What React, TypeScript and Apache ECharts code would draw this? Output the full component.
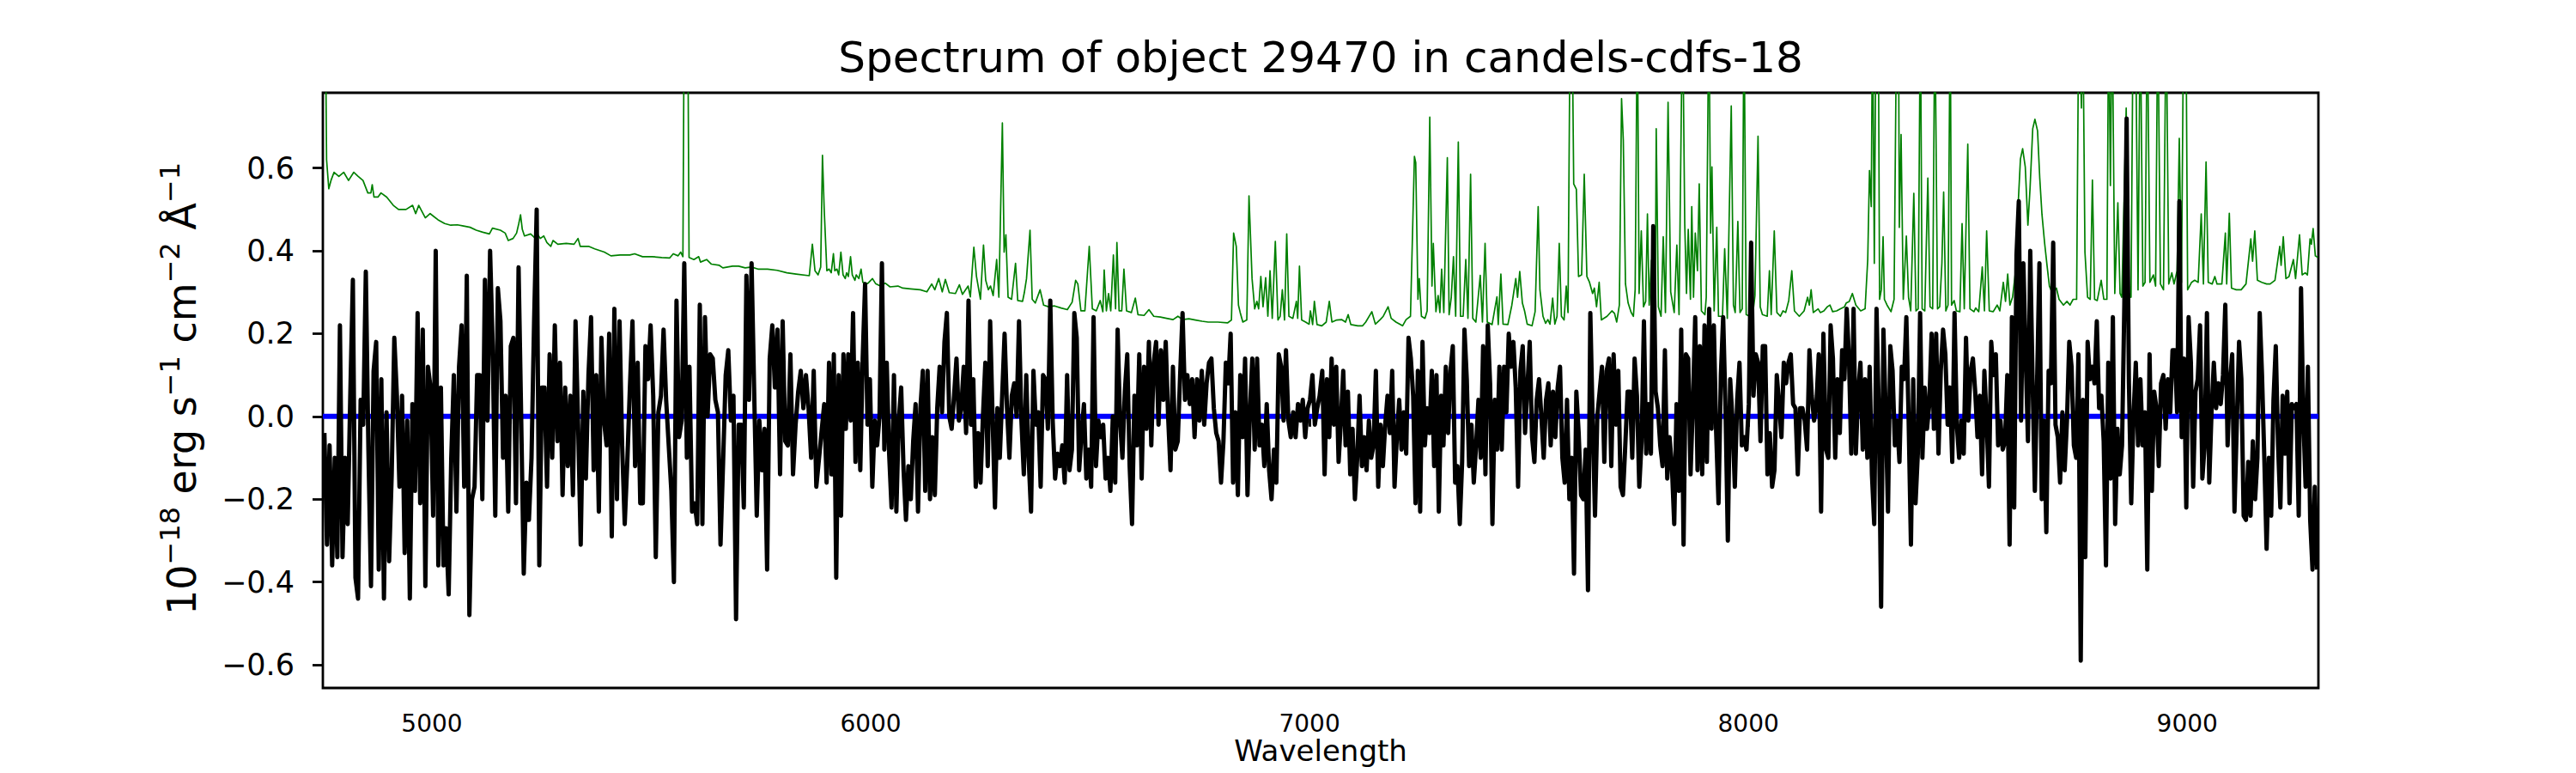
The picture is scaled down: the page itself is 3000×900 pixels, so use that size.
import React, { useEffect, useRef } from "react";
import * as echarts from "echarts";

// ---------------- data ----------------
const TITLE = "Spectrum of object 29470 in candels-cdfs-18";
const X_LABEL = "Wavelength";

const WAVE_MIN = 4751.5;
const WAVE_MAX = 9299;
const FLUX_MIN = -0.656;
const FLUX_MAX = 0.782;
const X_TICKS = [5000, 6000, 7000, 8000, 9000];
const Y_TICKS = [-0.6, -0.4, -0.2, 0, 0.2, 0.4, 0.6];
const ZERO_LEVEL = 0;

// object flux (black), read in four wavelength segments, uniformly sampled inside each
const SEGMENT_START = [4755, 5894, 7029, 8177];
const SEGMENT_END = [5876, 7023, 8171, 9296];

const FLUX_A = [
  -0.04, -0.31, -0.07, -0.36, -0.10, -0.34, 0.22, -0.34, -0.10, -0.26,
  0.05, 0.33, -0.39, -0.44, 0.04, -0.02, 0.35, -0.08, -0.41, 0.11,
  0.18, -0.37, 0.09, -0.44, 0.01, -0.35, -0.14, 0.19, 0.05, -0.17,
  0.05, -0.33, -0.01, -0.44, 0.03, -0.18, 0.25, -0.21, 0.21, -0.41,
  0.12, 0.07, -0.24, 0.40, -0.36, 0.07, -0.36, -0.27, -0.43, -0.10,
  0.10, -0.23, 0.12, 0.22, -0.17, 0.34, -0.48, -0.20, -0.17, 0.10,
  0.10, -0.20, 0.33, -0.01, 0.40, 0.17, -0.24, 0.31, 0.23, -0.10,
  0.05, -0.23, 0.17, 0.19, -0.21, 0.36, 0.00, -0.38, -0.16, -0.25,
  -0.10, 0.23, 0.50, -0.36, 0.07, 0.07, -0.17, 0.15, -0.10, 0.22,
  -0.06, 0.13, -0.19, 0.07, -0.12, 0.05, -0.19, 0.23, -0.02, -0.31,
  0.06, -0.15, 0.10, 0.24, -0.13, 0.10, -0.23, 0.19, -0.01, -0.07,
  0.20, -0.29, 0.26, -0.20, 0.23, -0.07, -0.26, -0.11, 0.07, 0.23,
  -0.12, 0.13, -0.21, -0.21, 0.17, 0.09, 0.22, 0.05, -0.34, 0.01,
  0.05, 0.21, 0.04, -0.07, -0.18, -0.40, 0.28, -0.05, -0.01, 0.37,
  -0.10, 0.12, -0.23, -0.21, -0.26, 0.27, -0.26, 0.24, 0.00, 0.15,
  0.14, 0.04, 0.01, -0.31, -0.11, 0.10, 0.16, -0.01, 0.05, -0.49,
  -0.02, -0.02, -0.22, 0.34, 0.04, 0.37, 0.06, -0.24, -0.01, -0.13,
  -0.03, -0.37, 0.14, 0.22, 0.07, 0.21, -0.14, 0.23, -0.06, -0.07,
  0.15, -0.14, -0.02, 0.06, 0.11, 0.02, 0.10, 0.02, -0.10, 0.11,
  -0.17,
];

const FLUX_B = [
  0.03, -0.16, 0.13, -0.14, 0.15, -0.39, 0.10, -0.24, 0.15, -0.03,
  0.15, -0.01, 0.25, -0.11, 0.13, -0.13, 0.14, 0.32, -0.02, 0.09,
  -0.17, -0.01, -0.07, 0.00, 0.37, -0.08, 0.13, -0.09, -0.22, 0.10,
  -0.23, -0.01, 0.07, -0.13, -0.25, -0.12, -0.20, -0.06, 0.03, -0.23,
  0.02, 0.11, -0.18, 0.11, -0.20, -0.05, -0.19, 0.02, 0.12, 0.01,
  0.18, 0.25, 0.00, -0.03, 0.05, 0.14, -0.01, 0.02, 0.12, -0.04,
  0.28, -0.02, 0.09, -0.17, -0.04, -0.16, 0.00, 0.13, -0.12, 0.23,
  0.00, -0.22, 0.02, -0.10, 0.05, 0.20, 0.02, -0.10, 0.05, 0.08,
  0.00, 0.23, -0.01, -0.14, 0.10, -0.10, -0.23, 0.11, -0.02, 0.01,
  -0.17, 0.10, 0.09, -0.03, 0.28, -0.01, -0.15, -0.09, -0.12, -0.07,
  -0.16, 0.10, -0.13, -0.08, 0.25, 0.19, -0.13, -0.04, 0.03, -0.15,
  -0.08, -0.17, 0.24, -0.12, -0.01, -0.05, -0.02, -0.15, -0.10, -0.18,
  0.00, -0.16, 0.21, -0.01, -0.10, 0.06, 0.15, -0.12, -0.26, 0.05,
  -0.07, 0.15, -0.15, 0.12, -0.03, 0.18, -0.07, 0.13, 0.18, -0.02,
  0.16, 0.04, 0.18, 0.00, -0.13, 0.12, -0.08, -0.06, 0.10, 0.25,
  0.04, 0.10, 0.03, 0.09, -0.05, 0.09, -0.01, 0.11, -0.02, 0.08,
  0.13, 0.14, 0.02, -0.04, -0.06, -0.16, -0.06, 0.13, 0.08, 0.20,
  -0.16, 0.01, -0.19, 0.10, -0.05, 0.14, -0.19, 0.01, 0.14, -0.08,
  0.14, -0.07, -0.02, -0.12, 0.03, -0.13, -0.20, -0.08, -0.16, 0.15,
  0.12, -0.01, 0.16, -0.01, -0.05, 0.01, -0.05, 0.03, -0.01, 0.04,
  -0.05, 0.02, 0.04, 0.10, -0.02, 0.02, 0.05,
];

const FLUX_C = [
  0.11, -0.14, 0.09, -0.05, 0.14, -0.02, 0.12, -0.11, -0.01, 0.11,
  -0.07, 0.06, -0.14, -0.03, -0.20, -0.10, 0.05, -0.12, -0.05, -0.13,
  -0.01, -0.10, -0.07, 0.11, -0.17, -0.02, -0.12, -0.02, 0.05, -0.04,
  0.11, -0.17, -0.05, 0.04, -0.08, 0.01, -0.09, 0.19, 0.14, 0.05,
  -0.21, 0.11, -0.23, 0.18, -0.07, 0.02, -0.04, 0.11, -0.12, 0.10,
  -0.23, 0.05, -0.07, 0.12, -0.04, 0.11, 0.17, -0.16, -0.12, -0.26,
  -0.11, 0.21, 0.09, -0.12, -0.02, -0.16, -0.07, 0.04, -0.10, 0.17,
  -0.14, 0.22, 0.08, -0.26, 0.04, -0.08, 0.12, -0.08, 0.12, 0.01,
  0.20, 0.12, 0.18, 0.07, -0.17, 0.11, 0.17, -0.04, 0.07, 0.18,
  -0.05, -0.11, 0.04, 0.09, 0.00, -0.10, 0.04, 0.08, -0.07, 0.06,
  -0.05, 0.07, 0.12, -0.10, -0.16, 0.04, -0.20, -0.10, -0.38, 0.06,
  -0.04, -0.19, -0.20, -0.08, -0.42, 0.25, -0.01, -0.24, 0.00, 0.06,
  0.12, -0.11, 0.11, 0.14, -0.12, 0.15, -0.02, 0.11, -0.17, -0.19,
  -0.07, 0.06, 0.06, -0.10, 0.14, 0.05, -0.17, -0.06, 0.23, -0.09,
  0.03, -0.09, 0.46, 0.06, 0.02, -0.07, -0.12, 0.16, -0.15, -0.05,
  -0.12, -0.26, 0.03, -0.18, 0.21, -0.31, 0.15, 0.14, -0.14, 0.03,
  0.24, -0.13, 0.17, -0.14, 0.22, -0.11, 0.26, -0.03, 0.22, -0.04,
  -0.21, 0.10, 0.24, 0.02, -0.30, 0.09, -0.01, -0.17, 0.04, 0.13,
  -0.07, -0.05, -0.08, 0.03, 0.42, 0.05, 0.15, 0.13, -0.06, 0.17,
  0.17, -0.14, -0.04, -0.17, -0.13, 0.10, 0.03, -0.05, 0.13, 0.08,
  0.13, 0.15, 0.03, 0.02, -0.14, 0.02, 0.02, -0.01, -0.08, 0.16,
  0.05, -0.01, 0.03, 0.15, -0.23, 0.20,
];

const FLUX_D = [
  -0.08, -0.10, 0.22, 0.14, -0.10, 0.09, -0.04, 0.16, 0.09, 0.26,
  0.14, -0.09, 0.26, -0.09, 0.06, 0.13, -0.08, 0.09, -0.10, 0.12,
  -0.14, -0.26, 0.26, 0.01, -0.46, 0.21, 0.01, -0.23, 0.17, 0.11,
  -0.07, -0.01, -0.11, 0.12, 0.09, 0.24, -0.01, -0.31, 0.09, -0.21,
  -0.09, 0.25, -0.10, 0.07, -0.03, 0.03, 0.20, -0.03, 0.20, -0.09,
  0.11, 0.21, 0.15, -0.02, 0.07, -0.11, 0.25, -0.02, -0.10, -0.01,
  -0.09, 0.19, -0.01, 0.11, 0.14, 0.06, -0.05, 0.05, -0.14, 0.11,
  -0.01, -0.17, 0.18, 0.10, 0.15, -0.07, -0.01, -0.08, -0.06, 0.10,
  -0.31, 0.24, -0.22, 0.39, 0.52, -0.01, 0.37, 0.15, -0.06, 0.40,
  0.09, -0.18, 0.09, 0.37, -0.20, -0.01, -0.28, 0.11, 0.08, 0.42,
  -0.02, -0.05, -0.16, 0.01, -0.13, -0.01, 0.18, 0.12, -0.07, -0.10,
  0.15, -0.59, 0.04, -0.34, 0.18, 0.09, 0.12, 0.08, 0.23, 0.02,
  0.05, -0.06, -0.36, 0.13, -0.15, 0.24, -0.26, -0.03, -0.14, -0.07,
  0.27, 0.72, 0.08, -0.21, 0.00, 0.13, -0.07, 0.09, -0.07, 0.01,
  -0.37, 0.15, -0.18, 0.06, 0.02, -0.12, 0.08, 0.10, -0.03, 0.09,
  0.01, 0.16, 0.16, 0.01, 0.52, -0.05, 0.14, -0.22, 0.24, 0.13,
  -0.17, 0.06, 0.09, 0.22, -0.15, -0.07, 0.25, -0.16, 0.01, 0.13,
  0.02, 0.08, 0.03, 0.10, 0.27, -0.07, 0.08, 0.15, -0.23, -0.02,
  0.18, 0.09, -0.24, -0.25, -0.11, -0.24, -0.06, -0.20, -0.10, 0.25,
  0.10, -0.10, -0.32, -0.10, -0.24, 0.04, 0.17, -0.07, -0.22, 0.05,
  -0.09, 0.06, -0.21, 0.03, 0.02, 0.03, -0.24, 0.31, 0.00, -0.17,
  0.12, -0.25, -0.37, -0.17, -0.37,
];

// noise / sky spectrum (green)
const NOISE_WAVE = [
  4752, 4757, 4760, 4765, 4770, 4777, 4788, 4799, 4810, 4822, 4832, 4843, 4854, 4861, 4864, 4868,
  4877, 4884, 4897, 4912, 4924, 4941, 4956, 4963, 4970, 4985, 4996, 5014, 5029, 5043, 5058, 5072,
  5087, 5101, 5116, 5131, 5138, 5156, 5167, 5174, 5185, 5193, 5198, 5202, 5206, 5211, 5225, 5236,
  5240, 5247, 5255, 5262, 5271, 5276, 5287, 5306, 5324, 5333, 5338, 5357, 5371, 5393, 5408, 5429,
  5451, 5462, 5480, 5502, 5524, 5542, 5550, 5561, 5567, 5572, 5575, 5583, 5586, 5597, 5608, 5612,
  5626, 5637, 5655, 5663, 5685, 5699, 5714, 5728, 5743, 5765, 5787, 5809, 5830, 5860, 5867, 5873,
  5880, 5886, 5890, 5894, 5900, 5905, 5910, 5915, 5918, 5923, 5927, 5932, 5937, 5942, 5945, 5949,
  5954, 5958, 5964, 5967, 5973, 5978, 5982, 5993, 6004, 6011, 6022, 6033, 6044, 6062, 6073, 6091,
  6113, 6128, 6139, 6146, 6155, 6163, 6170, 6179, 6193, 6202, 6209, 6222, 6227, 6235, 6241, 6250,
  6257, 6262, 6268, 6273, 6279, 6287, 6292, 6300, 6304, 6308, 6313, 6321, 6330, 6335, 6346, 6350,
  6355, 6363, 6368, 6375, 6386, 6394, 6405, 6419, 6434, 6448, 6459, 6467, 6472, 6479, 6488, 6498,
  6505, 6514, 6523, 6529, 6532, 6537, 6542, 6547, 6553, 6558, 6561, 6566, 6572, 6577, 6583, 6594,
  6603, 6609, 6623, 6634, 6645, 6660, 6674, 6689, 6700, 6711, 6725, 6740, 6755, 6769, 6791, 6813,
  6822, 6827, 6833, 6838, 6842, 6848, 6857, 6862, 6869, 6875, 6880, 6884, 6889, 6894, 6900, 6905,
  6910, 6915, 6922, 6928, 6933, 6938, 6943, 6948, 6953, 6962, 6970, 6973, 6977, 6982, 6991, 6999,
  7002, 7007, 7011, 7017, 7028, 7038, 7045, 7051, 7062, 7073, 7082, 7088, 7094, 7110, 7121, 7128,
  7142, 7150, 7161, 7168, 7179, 7186, 7197, 7212, 7220, 7230, 7239, 7242, 7247, 7250, 7255, 7263,
  7268, 7274, 7279, 7282, 7288, 7293, 7297, 7301, 7306, 7314, 7318, 7323, 7328, 7333, 7339, 7344,
  7350, 7356, 7361, 7367, 7372, 7379, 7389, 7394, 7400, 7405, 7416, 7427, 7430, 7436, 7441, 7452,
  7461, 7470, 7474, 7479, 7485, 7490, 7496, 7507, 7514, 7521, 7525, 7532, 7538, 7543, 7548, 7554,
  7559, 7564, 7569, 7574, 7580, 7585, 7589, 7594, 7598, 7602, 7608, 7613, 7620, 7626, 7632, 7638,
  7645, 7649, 7654, 7660, 7665, 7678, 7689, 7695, 7700, 7706, 7711, 7715, 7720, 7726, 7733, 7738,
  7742, 7747, 7751, 7756, 7761, 7766, 7770, 7774, 7779, 7784, 7788, 7790, 7795, 7801, 7806, 7811,
  7817, 7823, 7831, 7837, 7842, 7850, 7855, 7859, 7863, 7868, 7871, 7875, 7879, 7884, 7888, 7893,
  7901, 7904, 7910, 7914, 7917, 7922, 7928, 7932, 7941, 7946, 7952, 7961, 7966, 7970, 7976, 7981,
  7986, 7990, 7995, 8003, 8010, 8015, 8022, 8027, 8032, 8043, 8048, 8052, 8059, 8065, 8073, 8079,
  8085, 8092, 8099, 8105, 8116, 8127, 8135, 8139, 8143, 8148, 8159, 8164, 8172, 8180, 8186, 8192,
  8201, 8210, 8219, 8223, 8230, 8237, 8245, 8256, 8266, 8272, 8276, 8280, 8283, 8287, 8291, 8296,
  8299, 8303, 8307, 8310, 8316, 8325, 8332, 8338, 8342, 8344, 8348, 8353, 8360, 8365, 8370, 8377,
  8382, 8387, 8392, 8396, 8402, 8409, 8414, 8420, 8425, 8431, 8436, 8441, 8445, 8450, 8455, 8460,
  8463, 8469, 8474, 8482, 8487, 8492, 8500, 8505, 8514, 8518, 8525, 8533, 8538, 8543, 8549, 8558,
  8567, 8573, 8581, 8586, 8591, 8596, 8602, 8609, 8615, 8620, 8625, 8631, 8637, 8642, 8648, 8653,
  8659, 8664, 8669, 8675, 8681, 8686, 8693, 8702, 8708, 8718, 8726, 8733, 8740, 8748, 8753, 8759,
  8762, 8767, 8773, 8779, 8784, 8789, 8795, 8804, 8810, 8817, 8821, 8825, 8829, 8835, 8842, 8847,
  8851, 8861, 8866, 8872, 8877, 8882, 8888, 8893, 8899, 8904, 8909, 8915, 8923, 8928, 8933, 8939,
  8946, 8952, 8958, 8965, 8970, 8977, 8982, 8987, 8992, 8997, 9001, 9010, 9017, 9025, 9032, 9037,
  9043, 9048, 9057, 9063, 9068, 9079, 9087, 9090, 9096, 9101, 9112, 9123, 9134, 9145, 9149, 9154,
  9160, 9170, 9181, 9189, 9200, 9211, 9214, 9219, 9225, 9232, 9242, 9247, 9256, 9262, 9269, 9274,
  9280, 9283, 9287, 9292, 9298,
];

const NOISE_FLUX = [
  1.0, 1.0, 0.62, 0.55, 0.57, 0.59, 0.58, 0.59, 0.57, 0.59, 0.58, 0.57, 0.54, 0.54, 0.56, 0.53,
  0.53, 0.54, 0.53, 0.51, 0.50, 0.50, 0.51, 0.49, 0.51, 0.48, 0.49, 0.475, 0.466, 0.462, 0.463, 0.46,
  0.457, 0.45, 0.445, 0.441, 0.455, 0.45, 0.443, 0.425, 0.43, 0.443, 0.466, 0.487, 0.452, 0.436, 0.441, 0.43,
  0.441, 0.43, 0.436, 0.42, 0.411, 0.425, 0.416, 0.418, 0.416, 0.43, 0.411, 0.411, 0.405, 0.397, 0.388, 0.39,
  0.39, 0.393, 0.386, 0.386, 0.384, 0.383, 0.393, 0.388, 0.397, 0.386, 1.0, 1.0, 0.384, 0.379, 0.386, 0.373,
  0.379, 0.368, 0.365, 0.359, 0.363, 0.363, 0.359, 0.361, 0.356, 0.356, 0.353, 0.347, 0.344, 0.34, 0.416, 0.352,
  0.342, 0.361, 0.631, 0.50, 0.352, 0.356, 0.347, 0.393, 0.352, 0.356, 0.342, 0.397, 0.342, 0.333, 0.347, 0.338,
  0.386, 0.342, 0.329, 0.342, 0.333, 0.356, 0.324, 0.321, 0.333, 0.321, 0.315, 0.322, 0.313, 0.315, 0.31, 0.308,
  0.306, 0.301, 0.32, 0.306, 0.333, 0.301, 0.331, 0.299, 0.297, 0.318, 0.295, 0.315, 0.289, 0.409, 0.338, 0.283,
  0.414, 0.329, 0.306, 0.315, 0.292, 0.379, 0.288, 0.709, 0.397, 0.439, 0.288, 0.283, 0.37, 0.28, 0.278, 0.299,
  0.333, 0.45, 0.283, 0.274, 0.306, 0.269, 0.265, 0.267, 0.262, 0.258, 0.276, 0.329, 0.32, 0.255, 0.255, 0.411,
  0.26, 0.255, 0.28, 0.253, 0.354, 0.255, 0.297, 0.255, 0.39, 0.26, 0.42, 0.255, 0.255, 0.356, 0.255, 0.251,
  0.286, 0.246, 0.244, 0.258, 0.242, 0.24, 0.237, 0.234, 0.242, 0.234, 0.236, 0.233, 0.23, 0.228, 0.228, 0.226,
  0.233, 0.443, 0.411, 0.269, 0.251, 0.228, 0.233, 0.533, 0.333, 0.26, 0.278, 0.26, 0.338, 0.265, 0.335, 0.242,
  0.352, 0.237, 0.423, 0.233, 0.242, 0.306, 0.233, 0.441, 0.242, 0.237, 0.278, 0.237, 0.363, 0.233, 0.228, 0.223,
  0.255, 0.222, 0.278, 0.222, 0.219, 0.228, 0.278, 0.228, 0.233, 0.234, 0.228, 0.246, 0.222, 0.219, 0.219, 0.228,
  0.253, 0.223, 0.234, 0.242, 0.265, 0.237, 0.228, 0.219, 0.234, 0.242, 0.628, 0.613, 0.283, 0.333, 0.242, 0.237,
  0.255, 0.723, 0.315, 0.418, 0.253, 0.292, 0.251, 0.356, 0.251, 0.625, 0.246, 0.288, 0.386, 0.242, 0.663, 0.242,
  0.242, 0.379, 0.237, 0.585, 0.237, 0.228, 0.341, 0.228, 0.418, 0.228, 0.222, 0.289, 0.222, 0.344, 0.223, 0.222,
  0.269, 0.333, 0.288, 0.35, 0.274, 0.255, 0.223, 0.219, 0.253, 0.507, 0.306, 0.242, 0.225, 0.234, 0.223, 0.286,
  0.223, 0.242, 0.418, 0.242, 0.233, 0.315, 0.251, 1.0, 1.0, 0.562, 0.549, 0.338, 0.342, 0.585, 0.338, 0.324,
  0.297, 0.31, 0.265, 0.324, 0.233, 0.242, 0.255, 0.249, 0.228, 0.269, 0.768, 0.668, 0.32, 0.274, 0.251, 0.242,
  0.306, 1.0, 0.297, 0.448, 0.265, 0.278, 0.489, 0.269, 0.377, 0.251, 0.286, 0.695, 0.265, 0.242, 0.434, 0.251,
  0.759, 0.301, 0.251, 0.414, 0.246, 1.0, 0.466, 0.297, 0.452, 0.283, 0.507, 0.288, 0.443, 0.352, 0.562, 0.255,
  0.246, 0.288, 1.0, 0.443, 0.603, 0.255, 0.457, 0.242, 0.242, 0.405, 0.237, 0.75, 0.269, 0.251, 0.471, 0.251,
  0.26, 1.0, 0.246, 0.242, 0.246, 0.292, 0.677, 0.265, 0.246, 0.242, 0.352, 0.246, 0.448, 0.251, 0.242, 0.255,
  0.251, 0.28, 0.352, 0.255, 0.242, 0.255, 0.288, 0.269, 0.306, 0.251, 0.26, 0.251, 0.255, 0.265, 0.269, 0.253,
  0.255, 0.26, 0.265, 0.274, 0.278, 0.297, 0.269, 0.255, 0.26, 0.379, 0.594, 0.507, 1.0, 0.37, 1.0, 1.0,
  0.283, 0.306, 0.434, 0.283, 0.269, 0.253, 0.283, 1.0, 1.0, 0.457, 0.681, 0.283, 0.436, 0.288, 0.255, 0.539,
  0.255, 0.26, 1.0, 0.26, 0.255, 0.576, 0.265, 0.26, 1.0, 0.26, 0.265, 0.37, 0.542, 0.255, 0.269, 1.0,
  0.269, 0.28, 0.255, 0.253, 0.466, 0.26, 0.658, 0.26, 0.253, 0.262, 0.253, 0.361, 0.255, 0.448, 0.255, 0.253,
  0.269, 0.255, 0.324, 0.278, 0.344, 0.269, 0.288, 0.352, 0.516, 0.622, 0.647, 0.603, 0.462, 0.553, 0.695, 0.718,
  0.69, 0.576, 0.489, 0.42, 0.361, 0.315, 0.297, 0.31, 0.283, 0.269, 0.278, 0.269, 0.283, 0.283, 1.0, 0.745,
  1.0, 0.397, 0.288, 0.283, 0.571, 0.283, 0.28, 0.329, 0.283, 0.283, 1.0, 0.558, 1.0, 0.297, 0.516, 0.297,
  0.288, 0.745, 0.301, 0.288, 1.0, 1.0, 0.306, 1.0, 0.315, 0.324, 1.0, 0.324, 0.342, 0.315, 1.0, 0.32,
  0.306, 1.0, 0.32, 0.347, 0.32, 0.352, 0.672, 0.324, 1.0, 1.0, 0.306, 0.324, 0.329, 0.324, 0.489, 0.32,
  0.615, 0.324, 0.32, 0.338, 0.32, 0.32, 0.443, 0.32, 0.491, 0.31, 0.306, 0.306, 0.32, 0.429, 0.375, 0.448,
  0.329, 0.324, 0.32, 0.32, 0.329, 0.411, 0.365, 0.434, 0.333, 0.338, 0.379, 0.333, 0.439, 0.342, 0.347, 0.342,
  0.429, 0.416, 0.454, 0.388, 0.384,
];

// ---------------- component ----------------
export default function App() {
  const ref = useRef<HTMLDivElement | null>(null);

  useEffect(() => {
    if (!ref.current) return;
    const chart = echarts.init(ref.current, undefined, { renderer: "svg" });

    const segments = [FLUX_A, FLUX_B, FLUX_C, FLUX_D];
    const fluxData: number[][] = [];
    segments.forEach((arr, k) => {
      const s = SEGMENT_START[k];
      const e = SEGMENT_END[k];
      const n = arr.length;
      arr.forEach((f, i) => {
        fluxData.push([s + ((e - s) * i) / (n - 1), f]);
      });
    });
    const noiseData = NOISE_WAVE.map((w, i) => [w, NOISE_FLUX[i]]);
    const zeroData = [
      [WAVE_MIN, ZERO_LEVEL],
      [WAVE_MAX, ZERO_LEVEL],
    ];

    const font = "DejaVu Sans";
    const gridLeft = 376;
    const gridTop = 108;
    const gridW = 2324;
    const gridH = 693;

    chart.setOption({
      animation: false,
      backgroundColor: "#ffffff",
      grid: {
        left: gridLeft,
        top: gridTop,
        width: gridW,
        height: gridH,
        show: true,
        borderColor: "#000000",
        borderWidth: 2.8,
        backgroundColor: "transparent",
      },
      xAxis: {
        type: "value",
        min: WAVE_MIN,
        max: WAVE_MAX,
        axisLine: { show: false },
        splitLine: { show: false },
        axisTick: {
          show: true,
          inside: false,
          length: 12,
          customValues: X_TICKS,
          lineStyle: { color: "#000", width: 2.8 },
        },
        axisLabel: {
          customValues: X_TICKS,
          color: "#000",
          fontFamily: font,
          fontSize: 28,
          margin: 27,
          formatter: (v: number) => String(v),
        },
      },
      yAxis: {
        type: "value",
        min: FLUX_MIN,
        max: FLUX_MAX,
        axisLine: { show: false },
        splitLine: { show: false },
        axisTick: {
          show: true,
          inside: false,
          length: 12,
          customValues: Y_TICKS,
          lineStyle: { color: "#000", width: 2.8 },
        },
        axisLabel: {
          customValues: Y_TICKS,
          color: "#000",
          fontFamily: font,
          fontSize: 35,
          margin: 33,
          formatter: (v: number) =>
            (v < -1e-9 ? "\u2212" : "") + Math.abs(v).toFixed(1),
        },
      },
      graphic: [
        {
          type: "text",
          x: gridLeft + gridW / 2,
          y: 67,
          style: {
            text: TITLE,
            fill: "#000",
            fontFamily: font,
            fontSize: 50,
            align: "center",
            verticalAlign: "middle",
          },
        },
        {
          type: "text",
          x: gridLeft + gridW / 2,
          y: 874,
          style: {
            text: X_LABEL,
            fill: "#000",
            fontFamily: font,
            fontSize: 34,
            align: "center",
            verticalAlign: "middle",
          },
        },
        {
          type: "text",
          x: 212,
          y: gridTop + gridH / 2 - 2,
          rotation: Math.PI / 2,
          style: {
            text: "{n|10}{s|\u221218}{n| erg s}{s|\u22121}{n| cm}{s|\u22122}{n| \u00C5}{s|\u22121}",
            fill: "#000",
            fontFamily: font,
            align: "center",
            verticalAlign: "middle",
            rich: {
              n: {
                fontFamily: font,
                fontSize: 46,
                lineHeight: 60,
                verticalAlign: "middle",
                fill: "#000",
              },
              s: {
                fontFamily: font,
                fontSize: 32,
                lineHeight: 32,
                verticalAlign: "top",
                fill: "#000",
              },
            },
          },
        },
      ],
      series: [
        {
          name: "noise",
          type: "line",
          data: noiseData,
          showSymbol: false,
          symbol: "none",
          clip: true,
          z: 1,
          lineStyle: { color: "#008000", width: 1.7, join: "round" },
        },
        {
          name: "zero",
          type: "line",
          data: zeroData,
          showSymbol: false,
          symbol: "none",
          clip: true,
          z: 2,
          lineStyle: { color: "#0000ff", width: 6 },
        },
        {
          name: "flux",
          type: "line",
          data: fluxData,
          showSymbol: false,
          symbol: "none",
          clip: true,
          z: 3,
          lineStyle: { color: "#000000", width: 5, join: "round" },
        },
      ],
    });

    return () => {
      chart.dispose();
    };
  }, []);

  return (
    <div
      ref={ref}
      style={{
        position: "absolute",
        left: 0,
        top: 0,
        width: 3000,
        height: 900,
        background: "#ffffff",
      }}
    />
  );
}
